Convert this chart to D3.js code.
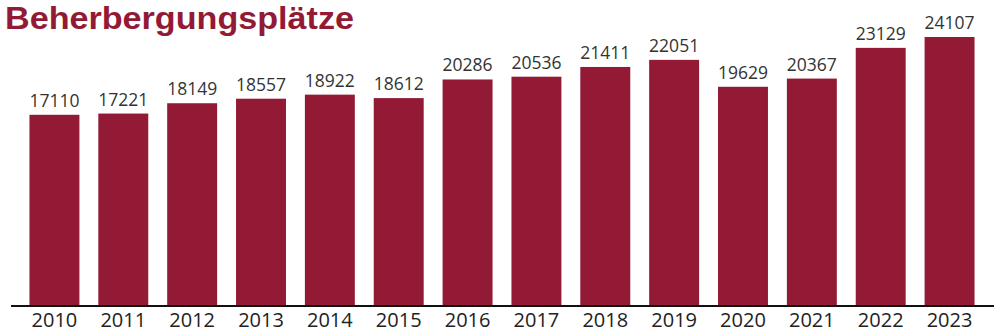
<!DOCTYPE html>
<html><head><meta charset="utf-8">
<script src="https://cdn.jsdelivr.net/npm/d3@7"></script>
<style>body{margin:0;background:#fff}svg{display:block}</style>
</head><body>
<svg id="c" width="994" height="336"></svg>
<script>
const years = ["2010","2011","2012","2013","2014","2015","2016","2017","2018","2019","2020","2021","2022","2023"];
const values = [17110,17221,18149,18557,18922,18612,20286,20536,21411,22051,19629,20367,23129,24107];
const title = "Beherbergungsplätze";

const svg = d3.select("#c");
const red = "#931a35";
const x = d3.scaleBand().domain(years).range([9.5, 994.5]).paddingInner(0.2746).paddingOuter(0.29);
const y = d3.scaleLinear().domain([0, 24107]).range([305, 37]);

svg.append("text").attr("x", 5).attr("y", 28.6)
  .attr("font-family", "Liberation Sans").attr("font-weight", 700).attr("font-size", 31)
  .attr("fill", red).attr("textLength", 349).attr("lengthAdjust", "spacingAndGlyphs")
  .text(title);

svg.selectAll("rect.bar").data(values).enter().append("rect")
  .attr("x", (d,i) => x(years[i])).attr("width", x.bandwidth())
  .attr("y", d => y(d)).attr("height", d => y(0) - y(d)).attr("fill", red);

svg.selectAll("text.val").data(values).enter().append("text")
  .attr("x", (d,i) => x(years[i]) + x.bandwidth()/2).attr("y", d => y(d) - 8)
  .attr("text-anchor", "middle").attr("font-family", "Open Sans").attr("font-size", 17.5)
  .attr("fill", "#333").text(d => d);

const ax = svg.append("g").attr("transform", "translate(0,306)")
  .call(d3.axisBottom(x).tickSize(0).tickPadding(7));
ax.select(".domain").attr("d", "M11,0H994").attr("stroke", "#111").attr("stroke-width", 2);
ax.selectAll("text").attr("font-family", "Open Sans").attr("font-size", 20).attr("fill", "#222");
</script>
</body></html>
